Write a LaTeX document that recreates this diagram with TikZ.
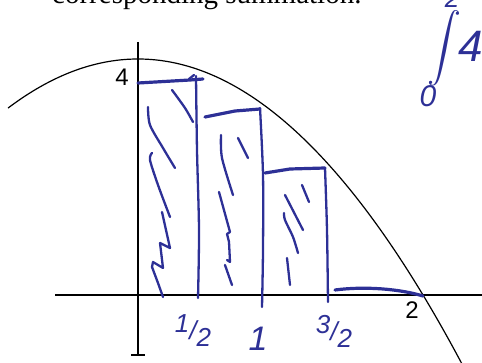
\documentclass[tikz,border=0pt]{standalone}
\usepackage{fontspec}
\setmainfont{Liberation Serif}
\newfontfamily\axisfont{Liberation Sans}
\newfontfamily\handfont{Liberation Sans}
\definecolor{inkblue}{RGB}{45,48,150}
\begin{document}
\begin{tikzpicture}[x=1pt,y=-1pt,
  ink/.style={draw=inkblue, line width=3.2pt, line cap=round, line join=round},
  thinink/.style={draw=inkblue, line width=2.3pt, line cap=round, line join=round},
  axis/.style={draw=black, line width=1.6pt},
  curve/.style={draw=black, line width=1.2pt},
  hand/.style={text=inkblue, font=\handfont\itshape\fontsize{26}{26}\selectfont, inner sep=0pt},
  axislabel/.style={text=black, font=\axisfont\fontsize{24}{24}\selectfont, inner sep=0pt}]
\useasboundingbox (0,0) rectangle (482,363);
\begin{scope}
\clip (0,0) rectangle (482,363);
% title (cut at top)
\node[anchor=base west, inner sep=0pt, font=\fontsize{29}{29}\selectfont] (title) at (52,4) {corresponding summation.};
% axes
\draw[axis] (55,295) -- (482,295);
\draw[axis] (138,42) -- (138,355);
\draw[axis] (131,355) -- (145,355);
% parabola y = 4 - x^2
\draw[curve] plot[domain=-0.912:2.3, samples=120] ({138+142.5*\x},{295-59*(4-\x*\x)});
% axis labels
\node[axislabel] (four) at (122,77) {4};
\node[axislabel] (two) at (412,310) {2};
% rectangle 1
\draw[ink] (138,83) -- (190,80) -- (203,79);
\draw[thinink] (189,79) -- (194,75);
\draw[thinink] plot[smooth] coordinates {(196,76) (197,150) (199,230) (198,298)};
\draw[thinink] plot[smooth] coordinates {(172,90) (185,108) (193,122)};
\draw[thinink] plot[smooth] coordinates {(148,107) (150,125) (163,148) (175,168)};
\draw[thinink] plot[smooth] coordinates {(152,153) (150,160) (158,185) (170,217)};
\draw[thinink] (162,212) -- (170,248) -- (160,243) -- (163,268) -- (153,262) -- (152,267) -- (158,283) -- (163,297);
% rectangle 2
\draw[ink] (205,117) -- (235,111) -- (260,109);
\draw[thinink] plot[smooth] coordinates {(260,108) (263,175) (263,250) (262,307)};
\draw[thinink] plot[smooth] coordinates {(221,135) (222,158) (233,195)};
\draw[thinink] (238,138) -- (248,158);
\draw[thinink] (219,192) -- (230,232) -- (227,234) -- (229,242) -- (230,262) -- (227,260);
\draw[thinink] (225,265) -- (232,285);
% rectangle 3
\draw[ink] (265,173) -- (290,169) -- (325,168);
\draw[thinink] plot[smooth] coordinates {(325,168) (327,230) (328,302)};
\draw[thinink] (302,185) -- (309,202);
\draw[thinink] (285,195) -- (303,230);
\draw[thinink] plot[smooth] coordinates {(284,213) (285,220) (293,237) (298,253)};
\draw[thinink] (287,258) -- (290,285);
% rectangle 4 (top only)
\draw[ink] (335,290) .. controls (365,286) and (400,289) .. (423,296);
% tick labels
\node[hand] (half) at (193,331) {\raisebox{7pt}{1}/\raisebox{-7pt}{2}};
\node[hand, font=\handfont\itshape\fontsize{34}{34}\selectfont] (one) at (258,339) {1};
\node[hand] (threehalf) at (334,331) {\raisebox{7pt}{3}/\raisebox{-7pt}{2}};
% integral at top right
\node[text=inkblue, inner sep=0pt, scale=3.4] (intsign) at (444,48) {$\displaystyle\int$};
\node[hand, font=\handfont\itshape\fontsize{30}{30}\selectfont] (low) at (428,96) {0};
\node[hand] (up) at (452,-2) {2};
\node[hand, font=\handfont\itshape\fontsize{44}{44}\selectfont, anchor=west] (integrand) at (458,46) {4-};
\end{scope}
\end{tikzpicture}
\end{document}
